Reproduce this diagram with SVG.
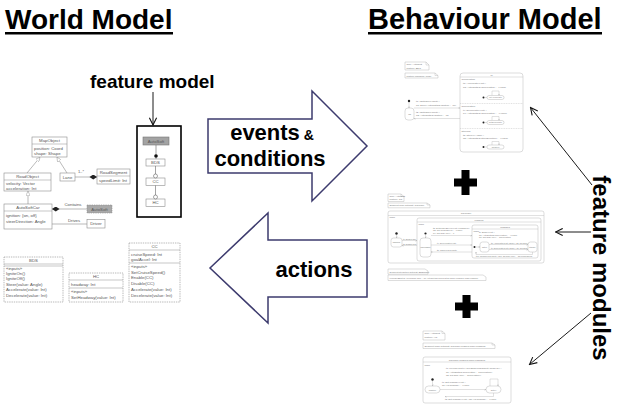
<svg xmlns="http://www.w3.org/2000/svg" width="623" height="406" viewBox="0 0 623 406">
<defs>
<style>
text{font-family:"Liberation Sans",Arial,sans-serif}
.title{font-size:28px;font-weight:bold;fill:#000}
.big{font-weight:bold;fill:#000}
.u rect{fill:#fff;stroke:#8c8c8c;stroke-width:.6}
.u path{fill:none;stroke:#8c8c8c;stroke-width:.5}
.u text{font-size:4.3px;fill:#555}
.dash rect{stroke-dasharray:1.4 .9}
.c{text-anchor:middle}
.ln{fill:none;stroke:#8c8c8c;stroke-width:.6}
.sm text{font-size:2.5px;fill:#777}
.sm rect,.sm .nt{fill:#fff;stroke:#b4b4b4;stroke-width:.45}
.sm .sl{fill:none;stroke:#b4b4b4;stroke-width:.4}
.sm .ds{fill:none;stroke:#b4b4b4;stroke-width:.4;stroke-dasharray:1 .7}
.dot{fill:#222}
.fat{fill:#fff;stroke:#3d3b6e;stroke-width:1.5}
.fm{fill:none;stroke:#1a1a1a;stroke-width:1}
.plus{fill:#000}
</style>
<marker id="vh" viewBox="0 0 10 10" refX="9" refY="5" markerWidth="9" markerHeight="9" markerUnits="userSpaceOnUse" orient="auto"><path d="M1,1 L9,5 L1,9" fill="none" stroke="#111" stroke-width="1.2"/></marker>
<marker id="tiny" viewBox="0 0 10 10" refX="9" refY="5" markerWidth="2" markerHeight="2" markerUnits="userSpaceOnUse" orient="auto"><path d="M1,1 L9,5 L1,9" fill="none" stroke="#999" stroke-width="1.5"/></marker>
<marker id="gen" viewBox="0 0 10 10" refX="10" refY="5" markerWidth="4.5" markerHeight="4.5" markerUnits="userSpaceOnUse" orient="auto"><path d="M0,0 L10,5 L0,10 Z" fill="#fff" stroke="#8c8c8c" stroke-width="1"/></marker>
<marker id="dia" viewBox="0 0 12 8" refX="0" refY="4" markerWidth="8" markerHeight="5" markerUnits="userSpaceOnUse" orient="auto"><path d="M0,4 L6,0 L12,4 L6,8 Z" fill="#222"/></marker>
</defs>
<rect width="623" height="406" fill="#fff"/>

<!-- headings -->
<g id="world-title">
<text class="title" x="5" y="29">World Model</text>
<rect x="5" y="32" width="168" height="2.5"/>
</g>
<g id="behaviour-title">
<text class="title" x="368" y="29" style="font-size:29px">Behaviour Model</text>
<rect x="368" y="32" width="234" height="2.5"/>
</g>

<!-- class diagram -->
<g id="map-object" class="u">
<rect x="32" y="137" width="35" height="20"/><path d="M32 144H67"/>
<text class="c" x="49.5" y="142.3">MapObject</text>
<text x="34" y="149.5">position: Coord</text>
<text x="34" y="154.8">shape: Shape</text>
</g>
<g id="road-object" class="u">
<rect x="4" y="173" width="47" height="18"/><path d="M4 180H51"/>
<text class="c" x="27.5" y="178.3">RoadObject</text>
<text x="6" y="185">velocity: Vector</text>
<text x="6" y="189.5">acceleration: Int</text>
</g>
<g id="lane" class="u">
<rect x="60" y="173" width="15" height="8"/>
<text class="c" x="67.5" y="178.5">Lane</text>
</g>
<g id="road-segment" class="u">
<rect x="97" y="169" width="33" height="15"/><path d="M97 176H130"/>
<text class="c" x="113.5" y="174.3">RoadSegment</text>
<text x="99" y="181.5">speedLimit: Int</text>
</g>
<g id="auto-soft-car" class="u">
<rect x="4" y="204" width="48" height="25"/><path d="M4 211H52"/>
<text class="c" x="28" y="209.3">AutoSoftCar</text>
<text x="6" y="217">ignition: {on, off}</text>
<text x="6" y="223">steerDirection: Angle</text>
</g>
<g id="auto-soft-ref" class="u dash">
<rect x="87" y="205" width="25" height="8" style="fill:#a9a9a9"/>
<text class="c" x="99.5" y="210.5">AutoSoft</text>
</g>
<g id="driver" class="u">
<rect x="87" y="219.5" width="18" height="8.5"/>
<text class="c" x="96" y="225.3">Driver</text>
</g>
<g id="bds" class="u dash">
<rect x="4" y="257" width="59" height="45"/><path d="M4 264H63M4 266H63"/>
<text class="c" x="33.5" y="262.3">BDS</text>
<text x="6" y="270">«inputs»</text>
<text x="6" y="275.3">IgniteOn()</text>
<text x="6" y="280.3">IgniteOff()</text>
<text x="6" y="285.5">Steer(value: Angle)</text>
<text x="6" y="291.3">Accelerate(value: Int)</text>
<text x="6" y="297.3">Decelerate(value: Int)</text>
</g>
<g id="hc" class="u dash">
<rect x="69" y="273" width="54" height="29"/><path d="M69 280H123M69 288H123"/>
<text class="c" x="96" y="278.3">HC</text>
<text x="71" y="285.5">headway: Int</text>
<text x="71" y="293">«inputs»</text>
<text x="71" y="298.5">SetHeadway(value: Int)</text>
</g>
<g id="cc" class="u dash">
<rect x="129" y="243" width="51" height="59"/><path d="M129 250H180M129 263H180"/>
<text class="c" x="154.5" y="248.3">CC</text>
<text x="131" y="255.5">cruiseSpeed: Int</text>
<text x="131" y="260.5">goalAccel: Int</text>
<text x="131" y="268">«inputs»</text>
<text x="131" y="273.5">SetCruiseSpeed()</text>
<text x="131" y="279">Enable(CC)</text>
<text x="131" y="284.5">Disable(CC)</text>
<text x="131" y="290.5">Accelerate(value: Int)</text>
<text x="131" y="296.5">Decelerate(value: Int)</text>
</g>

<!-- feature model -->
<g id="feature-model-label">
<text class="big" x="90" y="88" font-size="19">feature model</text>
</g>
<g id="feature-model">
<rect x="137" y="126" width="44" height="91" fill="#fff" stroke="#000" stroke-width="1.6"/>
<g class="u">
<rect x="143" y="137" width="26" height="8" style="fill:#a3a3a3;stroke:#777"/>
<text class="c" x="156" y="142.5">AutoSoft</text>
<rect x="146" y="159" width="19" height="7"/>
<text class="c" x="155.5" y="164">BDS</text>
<rect x="146" y="178" width="19" height="7.5"/>
<text class="c" x="155.5" y="183.3">CC</text>
<rect x="146" y="199" width="19" height="7.5"/>
<text class="c" x="155.5" y="204.3">HC</text>
</g>
</g>

<!-- connectors -->
<g id="connectors">
<path class="ln" d="M27 173L40 157.2" marker-end="url(#gen)"/>
<path class="ln" d="M67 173L57 157.2" marker-end="url(#gen)"/>
<path class="ln" d="M28 204V191.2" marker-end="url(#gen)"/>
<path class="ln" d="M97 177H75" marker-start="url(#dia)"/>
<text x="78" y="172.5" font-size="4" fill="#555">1..*</text>
<path class="ln" d="M52 209H87" marker-start="url(#dia)"/>
<text class="c" x="73" y="206" font-size="4.3" fill="#555">Contains</text>
<path class="ln" d="M52 224H87"/>
<text class="c" x="74" y="221.5" font-size="4.3" fill="#555">Drives</text>
<path class="fm" d="M153 92V125" marker-end="url(#vh)"/>
<path d="M156 145V159M155.5 166V178M155.5 185.5V199" stroke="#666" stroke-width=".6" fill="none"/>
<circle cx="156" cy="156" r="1.8" fill="#111"/>
<circle cx="155.5" cy="176" r="2" fill="#fff" stroke="#666" stroke-width=".6"/>
<circle cx="155.5" cy="197" r="2" fill="#fff" stroke="#666" stroke-width=".6"/>
<path class="fm" d="M592 185L530.5 107.5" marker-end="url(#vh)"/>
<path class="fm" d="M591 232H555.5" marker-end="url(#vh)"/>
<path class="fm" d="M591 313L529.5 364.5" marker-end="url(#vh)"/>
</g>

<!-- exchange arrows -->
<g id="events-arrow">
<path class="fat" d="M208 119H312V91L367 146L312 201V173H208Z"/>
<text class="big c" x="272" y="140" font-size="22">events<tspan font-size="14"> &amp;</tspan></text>
<text class="big c" x="270" y="166" font-size="22">conditions</text>
</g>
<g id="actions-arrow">
<path class="fat" d="M367 240H268V213L210 268L268 323V297H367Z"/>
<text class="big c" x="314" y="277" font-size="22">actions</text>
</g>

<!-- behaviour module BDS -->
<g id="module-bds" class="sm">
<path class="nt" d="M405 62H426L429 65V70H405Z"/><path class="sl" d="M426 62V65H429"/>
<text x="406.5" y="65.2">SPL: AutoSoft</text><text x="406.5" y="68.6">feature: BDS</text>
<path class="nt" d="M405 73H435L438 75.5V78H405Z"/><path class="sl" d="M435 73V75.5H438"/>
<text x="406.5" y="76.6">feature machine: main</text>
<circle class="dot" cx="409" cy="101" r="1.2"/><path class="sl" d="M409 102.2V108" marker-end="url(#tiny)"/>
<rect x="405" y="108" width="9" height="12" rx="3"/><text class="c" x="409.5" y="115">off</text>
<text x="416" y="102">t1: IgniteOn(c:Input) /</text>
<text x="416" y="105.5">a1: Drive(AutoSoftCar.ignition := on)</text>
<path class="sl" d="M414 108H460" marker-end="url(#tiny)"/>
<text x="416" y="112.5">t2: IgniteOff(c:Input) /</text>
<text x="416" y="116">a2: AutoSoftCar.ignition := off</text>
<path class="sl" d="M460 118.5H414" marker-end="url(#tiny)"/>
<rect x="460" y="73" width="63" height="79" rx="3"/>
<path class="sl" d="M460 77H523"/><text class="c" x="491.5" y="75.8">m</text>
<path class="ds" d="M460 103.5H523M460 128.5H523"/>
<text x="461.5" y="80.2">acceleration</text>
<text x="463" y="84">t3: Accelerate(v:Int) /</text>
<text x="463" y="87.5">a3: AutoSoftCar.acceleration := v.value</text>
<path class="sl" d="M492 95.5V91H499V95.5" marker-end="url(#tiny)"/>
<circle class="dot" cx="483.5" cy="97.5" r="1"/><path class="sl" d="M484.5 97.5H487"/>
<rect x="487" y="95.5" width="17" height="4" rx="2"/><text class="c" x="495.5" y="98.3" style="font-size:2.1px">setAccelerate</text>
<text x="461.5" y="106.7">deceleration</text>
<text x="463" y="110.5">t4: Decelerate(v:Int) /</text>
<text x="463" y="114">a4: AutoSoftCar.acceleration := -v.value</text>
<path class="sl" d="M492 120.5V116.5H499V120.5" marker-end="url(#tiny)"/>
<circle class="dot" cx="483.5" cy="122.5" r="1"/><path class="sl" d="M484.5 122.5H487"/>
<rect x="487" y="120.5" width="17" height="4" rx="2"/><text class="c" x="495.5" y="123.3" style="font-size:2.1px">setDecelerate</text>
<text x="461.5" y="131.7">steering</text>
<text x="463" y="135.5">t5: Steer(v:Angle) /</text>
<text x="463" y="139">a5: AutoSoftCar.steerDirection := v.value</text>
<path class="sl" d="M492 145V141.5H499V145" marker-end="url(#tiny)"/>
<circle class="dot" cx="483.5" cy="147" r="1"/><path class="sl" d="M484.5 147H487"/>
<rect x="487" y="145" width="17" height="4" rx="2"/><text class="c" x="495.5" y="147.8" style="font-size:2.1px">setSteer</text>
</g>

<g id="plus-1"><path class="plus" d="M461.5 170H469.5V178.5H477V186.5H469.5V195H461.5V186.5H454V178.5H461.5Z"/></g>

<!-- behaviour module CC -->
<g id="module-cc" class="sm">
<path class="nt" d="M388 194H401L404 196.5V201.5H388Z"/><path class="sl" d="M401 194V196.5H404"/>
<text x="389.5" y="196.9">SPL: AutoSoft</text><text x="389.5" y="200.3">feature: CC</text>
<path class="nt" d="M388 203H427L430 205V207.8H388Z"/><path class="sl" d="M427 203V205H430"/>
<text x="389.5" y="206.4" style="font-size:2.3px">Segment main automat: CC[main]</text>
<rect x="388" y="211" width="156" height="52" rx="2"/>
<path class="sl" d="M388 215.5H544"/><text class="c" x="466" y="214.3">CC[main]</text>
<text x="389.5" y="218.4">main</text>
<circle class="dot" cx="396.5" cy="233.5" r="1.2"/><path class="sl" d="M396.5 234.7V238" marker-end="url(#tiny)"/>
<rect x="391" y="238" width="11" height="9" rx="2.5"/><text class="c" x="396.5" y="243.3" style="font-size:2px">disabled</text>
<text x="403" y="239.6" style="font-size:2px">t1: Enable(CC)</text>
<path class="sl" d="M402 240.5H417" marker-end="url(#tiny)"/>
<text x="403" y="244.6" style="font-size:2px">t2: Disable(CC)</text>
<path class="sl" d="M417 245.5H402" marker-end="url(#tiny)"/>
<rect x="417" y="218" width="124" height="43" rx="2"/>
<path class="sl" d="M417 222H541"/><text class="c" x="479" y="221">enabled</text>
<text x="418.5" y="225">main</text>
<circle class="dot" cx="425.5" cy="233.5" r="1.1"/><path class="sl" d="M425.5 234.6V238" marker-end="url(#tiny)"/>
<rect x="420" y="238" width="11" height="19" rx="3"/><text class="c" x="425.5" y="248" style="font-size:1.9px">disengaged</text>
<text x="433" y="228.5" style="font-size:2.2px">t3: SetCruiseSpeed(v:Int) [!engaged] /</text>
<text x="433" y="231" style="font-size:2.2px">a3: CC.cruiseSpeed := v.value</text>
<text x="433" y="233.5" style="font-size:2.2px">a4: CC.goalAccel := 0</text>
<path class="sl" d="M431 235.5H472" marker-end="url(#tiny)"/>
<text x="437" y="243.8" style="font-size:2.2px">t4: Decelerate(v:Int)</text>
<path class="sl" d="M431 245H472" marker-end="url(#tiny)"/>
<text x="437" y="250.8" style="font-size:2.2px">t5: Cancel(CC:Input)</text>
<path class="sl" d="M472 252H431" marker-end="url(#tiny)"/>
<rect x="472" y="225" width="66" height="33" rx="2"/>
<path class="sl" d="M472 229H538"/><text class="c" x="505" y="228">engaged</text>
<text x="473.5" y="232">main</text>
<text x="479" y="233.2" style="font-size:2.2px">t6: Brake(v:Int) /</text>
<text x="479" y="235.7" style="font-size:2.2px">a6: AutoSoftCar.acceleration := -v.value</text>
<text x="479" y="238.2" style="font-size:2.2px">a7: CC.goalAccel := acceleration</text>
<circle class="dot" cx="474.5" cy="247" r="1"/><path class="sl" d="M475.5 247H480" marker-end="url(#tiny)"/>
<rect x="480" y="242" width="9" height="10" rx="2.5"/><text class="c" x="484.5" y="247.8" style="font-size:2px">active</text>
<text x="491" y="243.5" style="font-size:2px">t8: Accelerate(a:Int) [done] / a8: CC.goalAccel := a</text>
<path class="sl" d="M489 244.5H528" marker-end="url(#tiny)"/>
<text x="491" y="248.5" style="font-size:2px">t9: Decelerate(a:Int) [done] / a9: CC.goalAccel := -a</text>
<path class="sl" d="M489 249.5H528" marker-end="url(#tiny)"/>
<rect x="528" y="242" width="9" height="10" rx="2.5"/><text class="c" x="532.5" y="247.8" style="font-size:1.8px">standby</text>
<path class="sl" d="M532.5 252V254.5H476V252" marker-end="url(#tiny)"/>
<text x="476" y="256.8" style="font-size:2px">t10: Resume(CC:Input) / a10: CC.goalAccel := CC.cruiseSpeed</text>
<path class="nt" d="M388 269H425L428 271V274.2H388Z"/>
<text x="389.5" y="272.6" style="font-size:2.2px">Segment interaction automat: BDS[main]</text>
<path class="nt" d="M388 275H483L486 277V280.5H388Z"/>
<text x="389.5" y="278.6" style="font-size:2.1px">override(BDS[t3]) (overriding: abs) -- no AutoSoftCar.acceleration when engaged (main.enabled)</text>
</g>

<g id="plus-2"><path class="plus" d="M462.5 295H470.5V302.5H478V310.5H470.5V318H462.5V310.5H455V302.5H462.5Z"/></g>

<!-- behaviour module HC -->
<g id="module-hc" class="sm">
<path class="nt" d="M423 331H442L445 333.5V340H423Z"/><path class="sl" d="M442 331V333.5H445"/>
<text x="424.5" y="334.4">SPL: AutoSoft</text><text x="424.5" y="338">feature: HC</text>
<path class="nt" d="M423 343H492L495 345V348.5H423Z"/><path class="sl" d="M492 343V345H495"/>
<text x="424.5" y="347.2" style="font-size:2.4px">Segment main automat: CC[main.enabled.main.engaged]</text>
<rect x="423" y="357" width="88" height="46" rx="2"/>
<path class="sl" d="M423 362H511"/><text class="c" x="467" y="360.5">CC[main.enabled.main.engaged]</text>
<text x="424.5" y="365.5">main</text>
<text x="446" y="369.3" style="font-size:2.3px">t1: override(CC[t4]).GiveBrakePos(Object).ReadHC() /</text>
<text x="446" y="372.8" style="font-size:2.3px">a1: AutoSoftCar.acceleration := acceleration()</text>
<text x="446" y="376.3" style="font-size:2.3px">a2: CC.goalAccel := acceleration()</text>
<circle class="dot" cx="432.5" cy="379.5" r="1.2"/><path class="sl" d="M432.5 380.7V386" marker-end="url(#tiny)"/>
<rect x="425" y="386" width="15" height="7" rx="3.5"/><text class="c" x="432.5" y="390.5" style="font-size:2.2px">inactive</text>
<text x="442" y="382.8" style="font-size:2.3px">t1: SetHeadway(v:Int) /</text>
<text x="442" y="386.3" style="font-size:2.3px">a1: HC.headway := v.value</text>
<path class="sl" d="M440 389.5H486" marker-end="url(#tiny)"/>
<rect x="486" y="386" width="15" height="7" rx="3.5"/><text class="c" x="493.5" y="390.5" style="font-size:2.2px">active</text>
<path class="sl" d="M490 386V379H498V386" marker-end="url(#tiny)"/>
<path class="sl" d="M493.5 393V396.5H445" marker-end="url(#tiny)"/>
<text x="445" y="400" style="font-size:2.3px">t2: SetHeadway(v:Int) / a2: HC.headway := v.value</text>
</g>

<g id="feature-modules-label">
<text class="big c" transform="translate(593 268) rotate(90)" x="0" y="0" font-size="24">feature modules</text>
</g>
</svg>
